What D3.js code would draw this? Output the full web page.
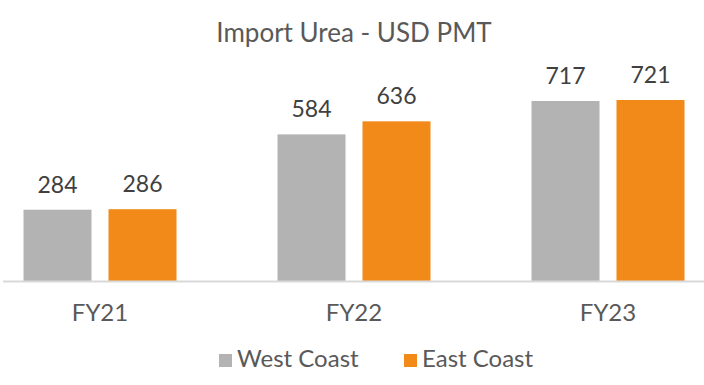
<!DOCTYPE html>
<html>
<head>
<meta charset="utf-8">
<script src="https://cdn.jsdelivr.net/npm/d3@7"></script>
<style>
  body { margin: 0; background: #fff; }
  text { font-family: Lato, "Open Sans", sans-serif; }
</style>
</head>
<body>
<div id="canvas"></div>
<script>
"use strict"

// chart data
let categories = ["FY21", "FY22", "FY23"];
let seriesNames = ["West Coast", "East Coast"];
let westCoast = [284, 584, 717];
let eastCoast = [286, 636, 721];
let seriesColors = ["#b3b3b3", "#f18a18"];

let width = 704, height = 385;
let baseline = 281;

let drawing = d3.select("#canvas")
    .append("svg")
    .attr("width", width)
    .attr("height", height);

let rows = categories.map((c, i) => ({ cat: c, values: [westCoast[i], eastCoast[i]] }));

let x0 = d3.scaleBand()
    .domain(categories)
    .range([-27, 735]);

let groupWidth = 153;
let x1 = d3.scaleBand()
    .domain(d3.range(seriesNames.length))
    .range([0, groupWidth])
    .paddingInner(0.2);

let y = d3.scaleLinear()
    .domain([0, 717])
    .range([baseline, 101]);

let title = drawing.append("text")
    .attr("x", 354)
    .attr("y", 42)
    .attr("text-anchor", "middle")
    .attr("font-size", 26)
    .attr("fill", "#595959")
    .text("Import Urea - USD PMT");

let groups = drawing.selectAll("g.group")
    .data(rows)
    .join("g")
    .attr("class", "group")
    .attr("transform", d => `translate(${x0(d.cat) + (x0.bandwidth() - groupWidth) / 2},0)`);

groups.selectAll("rect")
    .data(d => d.values)
    .join("rect")
    .attr("x", (v, i) => x1(i))
    .attr("y", v => y(v))
    .attr("width", x1.bandwidth())
    .attr("height", v => baseline - y(v))
    .attr("fill", (v, i) => seriesColors[i]);

groups.selectAll("text.value")
    .data(d => d.values)
    .join("text")
    .attr("class", "value")
    .attr("x", (v, i) => x1(i) + x1.bandwidth() / 2)
    .attr("y", v => y(v) - 17)
    .attr("text-anchor", "middle")
    .attr("font-size", 23)
    .attr("fill", "#404040")
    .text(v => v);

// category axis
let xAxis = drawing.append("g")
    .attr("transform", `translate(0,${baseline})`)
    .call(d3.axisBottom(x0).tickSize(0).tickPadding(23));
xAxis.select(".domain").remove();
xAxis.selectAll("text")
    .attr("font-family", "Lato, sans-serif")
    .attr("font-size", 24)
    .attr("fill", "#595959");

let axisLine = drawing.append("line")
    .attr("x1", 3)
    .attr("x2", 704)
    .attr("y1", baseline + 0.5)
    .attr("y2", baseline + 0.5)
    .attr("stroke", "#d9d9d9")
    .attr("stroke-width", 2);

// legend
let legendX = [219, 404];
let legend = drawing.selectAll("g.legend")
    .data(seriesNames)
    .join("g")
    .attr("class", "legend")
    .attr("transform", (d, i) => `translate(${legendX[i]},354)`);

legend.append("rect")
    .attr("width", 13)
    .attr("height", 13)
    .attr("fill", (d, i) => seriesColors[i]);

legend.append("text")
    .attr("x", 18)
    .attr("y", 13)
    .attr("font-size", 24)
    .attr("fill", "#595959")
    .text(d => d);
</script>
</body>
</html>
